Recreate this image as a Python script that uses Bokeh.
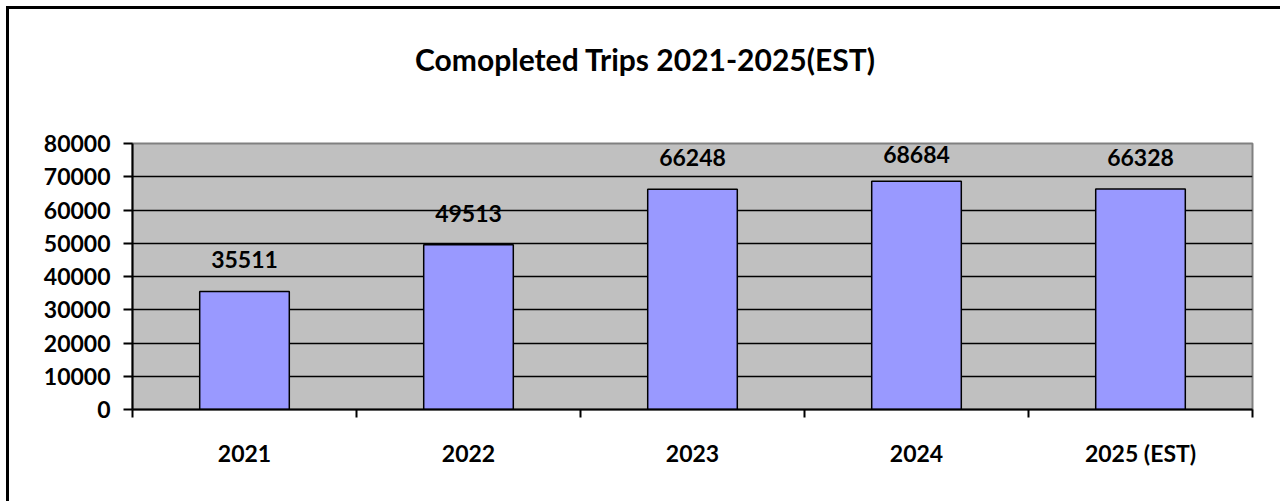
from bokeh.plotting import figure
from bokeh.models import ColumnDataSource, LabelSet, Range1d, FixedTicker, Div
from bokeh.layouts import column
from bokeh.core.properties import value
from bokeh.embed import file_html
from bokeh.resources import INLINE

categories = ["2021", "2022", "2023", "2024", "2025 (EST)"]
trips = [35511, 49513, 66248, 68684, 66328]
y_ticks = [0, 10000, 20000, 30000, 40000, 50000, 60000, 70000, 80000]
title_text = "Comopleted Trips 2021-2025(EST)"

FONT = "Lato"
n = len(categories)
centers = [i + 0.5 for i in range(n)]
bounds = [float(i) for i in range(n + 1)]

FRAME_H = 266
Y_MAX = y_ticks[-1]
px = Y_MAX / FRAME_H  # data units per pixel
# data labels sit 23px above the bar, but are kept inside the plot area (as Excel does)
label_y = [min(v + 23 * px, Y_MAX - 19 * px) for v in trips]

src = ColumnDataSource(dict(x=centers, top=trips, ly=label_y,
                            label=[str(v) for v in trips]))

title = Div(text=title_text, width=1262, height=80,
            styles={"font-family": FONT, "font-weight": "bold", "font-size": "30px",
                    "text-align": "center", "color": "black",
                    "padding-top": "24px", "padding-left": "0px",
                    "box-sizing": "border-box"})

p = figure(frame_width=1120, frame_height=FRAME_H,
           min_border_left=123, min_border_right=19,
           min_border_top=44, min_border_bottom=92,
           x_range=Range1d(0, n), y_range=Range1d(0, Y_MAX),
           output_backend="svg", toolbar_location=None, tools="")

p.background_fill_color = "#C0C0C0"
p.border_fill_color = "white"
p.outline_line_color = "#808080"
p.outline_line_width = 2

p.vbar(x="x", top="top", width=0.4, bottom=0, source=src,
       fill_color="#9999FF", line_color="black", line_width=1.5)

labels = LabelSet(x="x", y="ly", text="label", source=src,
                  text_align="center", text_baseline="alphabetic",
                  text_font=value(FONT), text_font_style="bold", text_font_size="23px",
                  text_color="black")
p.add_layout(labels)

# grid
p.xgrid.visible = False
p.ygrid.ticker = FixedTicker(ticks=y_ticks[1:-1])
p.ygrid.grid_line_color = "black"
p.ygrid.grid_line_width = 1.5

# y axis
p.yaxis.ticker = FixedTicker(ticks=y_ticks)
p.yaxis.axis_line_color = "black"
p.yaxis.axis_line_width = 2
p.yaxis.major_tick_out = 9
p.yaxis.major_tick_in = 0
p.yaxis.major_tick_line_width = 2
p.yaxis.minor_tick_line_color = None
p.yaxis.major_label_standoff = 13
p.yaxis.major_label_text_font = FONT
p.yaxis.major_label_text_font_style = "bold"
p.yaxis.major_label_text_font_size = "23px"
p.yaxis.major_label_text_color = "black"

# x axis
p.xaxis.ticker = FixedTicker(ticks=centers, minor_ticks=bounds)
p.xaxis.major_label_overrides = {c: cat for c, cat in zip(centers, categories)}
p.xaxis.axis_line_color = "black"
p.xaxis.axis_line_width = 2
p.xaxis.major_tick_line_color = None
p.xaxis.major_tick_out = 0
p.xaxis.major_tick_in = 0
p.xaxis.minor_tick_line_color = "black"
p.xaxis.minor_tick_line_width = 2
p.xaxis.minor_tick_out = 8
p.xaxis.minor_tick_in = 0
p.xaxis.major_label_standoff = 21
p.xaxis.major_label_text_font = FONT
p.xaxis.major_label_text_font_style = "bold"
p.xaxis.major_label_text_font_size = "23px"
p.xaxis.major_label_text_color = "black"

layout = column(title, p, spacing=0)
layout.styles = {"margin-left": "6px", "margin-top": "6px",
                 "border-left": "3px solid black", "border-top": "3px solid black"}

open("out.html", "w").write(file_html(layout, INLINE))
